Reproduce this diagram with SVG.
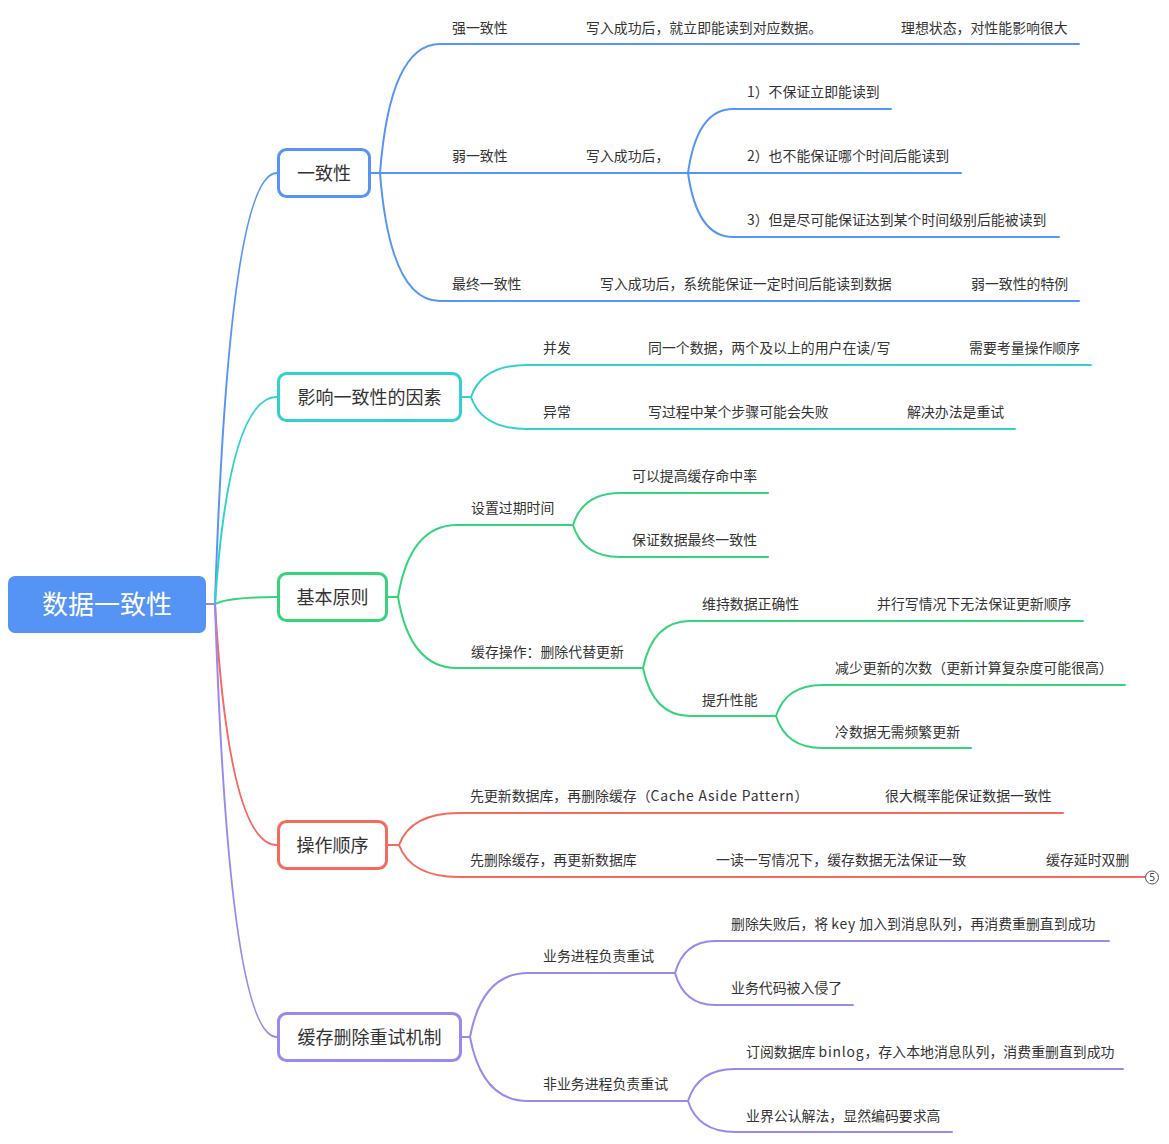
<svg xmlns="http://www.w3.org/2000/svg" width="1169" height="1144" viewBox="0 0 1169 1144">
  <style>
    .t { font-family: "Noto Sans CJK SC", "Noto Sans", sans-serif; font-size: 13.9px; fill: #333; }
    .lat { letter-spacing: 0.8px; }
    .n1 { font-family: "Noto Sans CJK SC", "Noto Sans", sans-serif; font-size: 18px; fill: #333; text-anchor: middle; }
    .root { font-family: "Noto Sans CJK SC", "Noto Sans", sans-serif; font-size: 26px; fill: #fff; text-anchor: middle; }
    .box { fill: #fff; stroke-width: 3; }
    .ln { fill: none; stroke-width: 2; stroke-linecap: round; }
    .blue { stroke: #5694F6; }
    .teal { stroke: #33D1CB; }
    .green { stroke: #35D47B; }
    .red { stroke: #F6695E; }
    .purple { stroke: #9B87F0; }
  </style>
  <rect width="1169" height="1144" fill="#fff"/>

  <!-- connectors -->
  <g id="connectors">
    <!-- root to main topics -->
    <path class="ln blue" d="M206,604 H215 Q229,173 277,173"/>
    <path class="ln teal" d="M206,604 H215 Q229,397 277,397"/>
    <path class="ln green" d="M206,604 H215 Q228,597 277,597"/>
    <path class="ln red" d="M206,604 H215 Q229,845 277,845"/>
    <path class="ln purple" d="M206,604 H215 Q229,1037 277,1037"/>

    <!-- 一致性 -->
    <path class="ln blue" d="M371,173 H380 Q390,44 440,44 H1079"/>
    <path class="ln blue" d="M371,173 H688"/>
    <path class="ln blue" d="M380,173 Q390,301 440,301 H1079"/>
    <path class="ln blue" d="M688,173 Q697,109 733,109 H891"/>
    <path class="ln blue" d="M688,173 H961"/>
    <path class="ln blue" d="M688,173 Q697,237 733,237 H1059"/>

    <!-- 影响一致性的因素 -->
    <path class="ln teal" d="M461,397 H471 Q482,365 527,365 H1091"/>
    <path class="ln teal" d="M471,397 Q482,429 527,429 H1015"/>

    <!-- 基本原则 -->
    <path class="ln green" d="M388,597 H398 Q410,525 457,525 H573"/>
    <path class="ln green" d="M398,597 Q410,668 457,668 H643"/>
    <path class="ln green" d="M573,525 Q583,493 620,493 H768"/>
    <path class="ln green" d="M573,525 Q583,557 620,557 H768"/>
    <path class="ln green" d="M643,668 Q653,621 690,621 H1083"/>
    <path class="ln green" d="M643,668 Q653,716 690,716 H776"/>
    <path class="ln green" d="M776,716 Q786,685 822,685 H1125"/>
    <path class="ln green" d="M776,716 Q786,748 822,748 H971"/>

    <!-- 操作顺序 -->
    <path class="ln red" d="M388,845 H399 Q411,813 459,813 H1063"/>
    <path class="ln red" d="M399,845 Q411,877 459,877 H1145"/>

    <!-- 缓存删除重试机制 -->
    <path class="ln purple" d="M461,1037 H470 Q482,973 528,973 H675"/>
    <path class="ln purple" d="M470,1037 Q482,1101 528,1101 H688"/>
    <path class="ln purple" d="M675,973 Q684,941 715,941 H1109"/>
    <path class="ln purple" d="M675,973 Q684,1005 715,1005 H853"/>
    <path class="ln purple" d="M688,1101 Q698,1069 735,1069 H1123"/>
    <path class="ln purple" d="M688,1101 Q698,1132 735,1132 H952"/>
  </g>

  <!-- central topic -->
  <g id="root">
    <rect x="8" y="576" width="198" height="57" rx="7" fill="#5594F5"/>
    <text class="root" x="107" y="614">数据一致性</text>
  </g>

  <!-- 一致性 -->
  <g id="consistency">
    <rect class="box blue" x="278.5" y="149.5" width="91" height="47" rx="8"/>
    <text class="n1" x="324" y="179.5">一致性</text>
    <text class="t" x="452" y="33">强一致性</text>
    <text class="t" x="586" y="33">写入成功后，就立即能读到对应数据。</text>
    <text class="t" x="901" y="33">理想状态，对性能影响很大</text>
    <text class="t" x="452" y="161">弱一致性</text>
    <text class="t" x="586" y="161">写入成功后，</text>
    <text class="t" x="747" y="97">1）不保证立即能读到</text>
    <text class="t" x="747" y="161">2）也不能保证哪个时间后能读到</text>
    <text class="t" x="747" y="225">3）但是尽可能保证达到某个时间级别后能被读到</text>
    <text class="t" x="452" y="289">最终一致性</text>
    <text class="t" x="600" y="289">写入成功后，系统能保证一定时间后能读到数据</text>
    <text class="t" x="971" y="289">弱一致性的特例</text>
  </g>

  <!-- 影响一致性的因素 -->
  <g id="factors">
    <rect class="box teal" x="278.5" y="373.5" width="182" height="47" rx="8"/>
    <text class="n1" x="369.5" y="403.5">影响一致性的因素</text>
    <text class="t" x="543" y="353">并发</text>
    <text class="t" x="648" y="353">同一个数据，两个及以上的用户在读<tspan class="lat">/</tspan>写</text>
    <text class="t" x="969" y="353">需要考量操作顺序</text>
    <text class="t" x="543" y="417">异常</text>
    <text class="t" x="648" y="417">写过程中某个步骤可能会失败</text>
    <text class="t" x="907" y="417">解决办法是重试</text>
  </g>

  <!-- 基本原则 -->
  <g id="principles">
    <rect class="box green" x="278.5" y="573.5" width="108" height="47" rx="8"/>
    <text class="n1" x="332.5" y="603.5">基本原则</text>
    <text class="t" x="471" y="513">设置过期时间</text>
    <text class="t" x="632" y="481">可以提高缓存命中率</text>
    <text class="t" x="632" y="545">保证数据最终一致性</text>
    <text class="t" x="471" y="657">缓存操作：删除代替更新</text>
    <text class="t" x="702" y="609">维持数据正确性</text>
    <text class="t" x="877" y="609">并行写情况下无法保证更新顺序</text>
    <text class="t" x="702" y="705">提升性能</text>
    <text class="t" x="835" y="673">减少更新的次数（更新计算复杂度可能很高）</text>
    <text class="t" x="835" y="737">冷数据无需频繁更新</text>
  </g>

  <!-- 操作顺序 -->
  <g id="order">
    <rect class="box red" x="278.5" y="821.5" width="108" height="47" rx="8"/>
    <text class="n1" x="332.5" y="851.5">操作顺序</text>
    <text class="t" x="470" y="801">先更新数据库，再删除缓存（<tspan class="lat">Cache Aside Pattern</tspan>）</text>
    <text class="t" x="885" y="801">很大概率能保证数据一致性</text>
    <text class="t" x="470" y="865">先删除缓存，再更新数据库</text>
    <text class="t" x="716" y="865">一读一写情况下，缓存数据无法保证一致</text>
    <text class="t" x="1046" y="865">缓存延时双删</text>
    <circle cx="1152" cy="877.5" r="6.5" fill="#fff" stroke="#555" stroke-width="1"/>
    <text x="1152" y="881" text-anchor="middle" font-family="Noto Sans, sans-serif" font-size="10" fill="#444">5</text>
  </g>

  <!-- 缓存删除重试机制 -->
  <g id="retry">
    <rect class="box purple" x="278.5" y="1013.5" width="182" height="47" rx="8"/>
    <text class="n1" x="369.5" y="1043.5">缓存删除重试机制</text>
    <text class="t" x="543" y="961">业务进程负责重试</text>
    <text class="t" x="731" y="929">删除失败后，将 <tspan class="lat">key</tspan> 加入到消息队列，再消费重删直到成功</text>
    <text class="t" x="731" y="993">业务代码被入侵了</text>
    <text class="t" x="543" y="1089">非业务进程负责重试</text>
    <text class="t" x="746" y="1057">订阅数据库 <tspan class="lat">binlog</tspan>，存入本地消息队列，消费重删直到成功</text>
    <text class="t" x="746" y="1121">业界公认解法，显然编码要求高</text>
  </g>
</svg>
